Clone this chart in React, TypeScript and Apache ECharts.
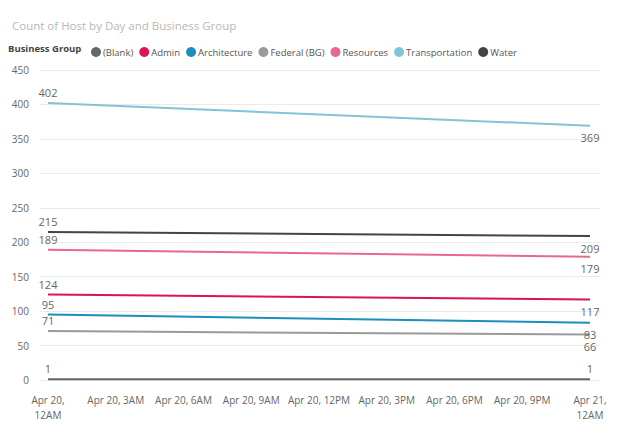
import React, { useEffect, useRef } from "react";
import * as echarts from "echarts";

const seriesNames = ["(Blank)", "Admin", "Architecture", "Federal (BG)", "Resources", "Transportation", "Water"];
const seriesColors = ["#666666", "#dc1450", "#1c8fbd", "#9a9a9a", "#e8688a", "#7fc4d8", "#444444"];
const pointHours = [0, 24];
const blankValues = [1, 1];
const adminValues = [124, 117];
const architectureValues = [95, 83];
const federalValues = [71, 66];
const resourcesValues = [189, 179];
const transportationValues = [402, 369];
const waterValues = [215, 209];
const allValues = [blankValues, adminValues, architectureValues, federalValues, resourcesValues, transportationValues, waterValues];
const xTickHours = [0, 3, 6, 9, 12, 15, 18, 21, 24];
const xTickLabels = [
  "Apr 20,\n12AM",
  "Apr 20, 3AM",
  "Apr 20, 6AM",
  "Apr 20, 9AM",
  "Apr 20, 12PM",
  "Apr 20, 3PM",
  "Apr 20, 6PM",
  "Apr 20, 9PM",
  "Apr 21,\n12AM",
];

const FONT = "'Open Sans', 'Noto Sans', sans-serif";

export default function App() {
  const ref = useRef<HTMLDivElement>(null);
  useEffect(() => {
    if (!ref.current) return;
    const chart = echarts.init(ref.current, undefined, { renderer: "svg" });
    const series = seriesNames.map((name, si) => ({
      name,
      type: "line",
      symbol: "circle",
      symbolSize: 0,
      showSymbol: true,
      lineStyle: { width: 2, color: seriesColors[si] },
      itemStyle: { color: seriesColors[si] },
      z: name === "(Blank)" ? 5 : 3,
      data: pointHours.map((h, i) => {
        const v = allValues[si][i];
        const last = i === pointHours.length - 1;
        const below = last && v > 10;
        return {
          value: [h, v],
          label: {
            show: true,
            position: below ? "bottom" : "top",
            distance: below ? 6.5 : 5,
            formatter: String(v),
            color: "#666666",
            fontSize: 11,
            lineHeight: 11,
            fontFamily: FONT,
          },
        };
      }),
    }));
    chart.setOption({
      animation: false,
      textStyle: { fontFamily: FONT },
      title: {
        text: "Count of Host by Day and Business Group",
        left: 7,
        top: 14,
        textStyle: { fontSize: 11.5, fontWeight: "normal", color: "#b8b8b8", fontFamily: FONT },
      },
      graphic: [
        {
          type: "text",
          left: 8,
          top: 43,
          style: { text: "Business Group", fontSize: 9.5, fontWeight: "bold", fill: "#444444", fontFamily: FONT },
        },
      ],
      legend: {
        left: 86,
        top: 42,
        icon: "circle",
        itemWidth: 10,
        itemHeight: 10,
        itemGap: 6,
        textStyle: { fontSize: 9.5, color: "#555555", fontFamily: FONT, padding: [0, 0, 0, -3] },
        data: seriesNames,
      },
      grid: { left: 40, right: 21, top: 70, bottom: 60, containLabel: false },
      xAxis: {
        type: "value",
        min: -0.354,
        max: 24.443,
        axisLine: { show: false },
        axisTick: { show: false },
        splitLine: { show: false },
        axisLabel: {
          customValues: xTickHours,
          formatter: (v: number) => {
            const idx = xTickHours.indexOf(Math.round(v));
            return idx >= 0 ? xTickLabels[idx] : "";
          },
          color: "#666666",
          fontSize: 10,
          fontFamily: FONT,
          margin: 12,
          lineHeight: 15,
        },
      },
      yAxis: {
        type: "value",
        min: 0,
        max: 450,
        interval: 50,
        axisLine: { show: false },
        axisTick: { show: false },
        splitLine: { lineStyle: { color: "#ebebeb", width: 1 } },
        axisLabel: { color: "#666666", fontSize: 10, fontFamily: FONT, margin: 11 },
      },
      series,
    });
    return () => chart.dispose();
  }, []);
  return <div ref={ref} style={{ position: "fixed", left: 0, top: 0, width: 621, height: 440, background: "#ffffff" }} />;
}
